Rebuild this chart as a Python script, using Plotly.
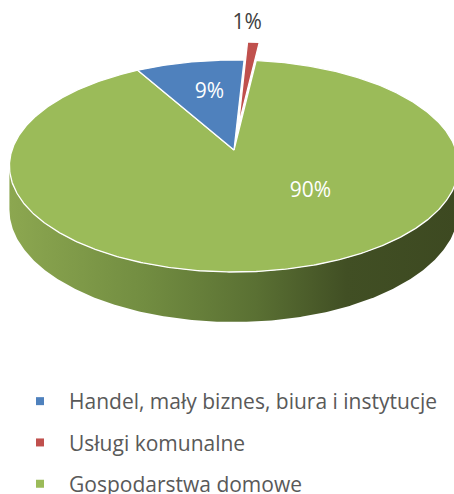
import numpy as np
import plotly.graph_objects as go

# ---- data ----
categories = ["Handel, mały biznes, biura i instytucje", "Usługi komunalne", "Gospodarstwa domowe"]
values = [9, 1, 90]
pct_labels = ["9%", "1%", "90%"]

# ---- style ----
colors = ["#4f81bd", "#c0504d", "#9bbb59"]
explode = [0.0, 0.24, 0.0]
label_colors = ["white", "#404040", "white"]
label_place = [(0.62, 2.0), (1.25, -2.0), (0.50, -29.0)]   # (radius fraction, angle shift deg)
side_scale = [
    [[0, "#3f6590"], [1, "#2a4466"]],
    [[0, "#9a3e3b"], [1, "#6e2c2a"]],
    [[0, "#8ca750"], [0.3, "#728d41"], [0.55, "#5a7033"], [0.75, "#414f24"], [1, "#3d4921"]],
]
START_DEG = -29.4
CX, CY, R, H, P, T = 234.0, 150.0, 222.0, 103.6, 0.151, 42.4
W, HT = 454, 494
FONT = "Open Sans"


def proj(X, Z, drop=0.0):
    s = 1.0 / (1.0 + P * Z)
    return CX + R * X * s, CY - H * Z * s + drop * s


def arc(a0, a1, ex=0.0, ez=0.0, drop=0.0):
    n = max(2, int(abs(a1 - a0) / 0.5) + 1)
    th = np.radians(np.linspace(a0, a1, n))
    return proj(ex + np.sin(th), ez + np.cos(th), drop)


total = float(sum(values))
bounds = []
acc = START_DEG
for v in values:
    a0 = acc
    acc += 360.0 * v / total
    bounds.append((a0, acc))

fig = go.Figure()

# sides (outer wall, visible near part)
vis0 = np.degrees(np.arccos(-P))
vis1 = 360.0 - vis0
for i, (a0, a1) in enumerate(bounds):
    for shift in (0.0, 360.0, -360.0):
        lo = max(a0 + shift, vis0)
        hi = min(a1 + shift, vis1)
        if lo < hi:
            tm = np.radians((a0 + a1) / 2)
            ex, ez = explode[i] * np.sin(tm), explode[i] * np.cos(tm)
            xt, yt = arc(lo, hi, ex, ez)
            xb, yb = arc(hi, lo, ex, ez, drop=T)
            xs = np.concatenate([xt, xb, xt[:1]])
            ys = np.concatenate([yt, yb, yt[:1]])
            fig.add_trace(go.Scatter(
                x=xs, y=ys, mode="lines", fill="toself",
                line=dict(width=0, color="rgba(0,0,0,0)"),
                fillgradient=dict(type="horizontal", colorscale=side_scale[i]),
                showlegend=False, hoverinfo="skip"))

# top faces
for i in [2, 0, 1]:
    a0, a1 = bounds[i]
    tm = np.radians((a0 + a1) / 2)
    ex, ez = explode[i] * np.sin(tm), explode[i] * np.cos(tm)
    ax, ay = proj(ex, ez)
    xa, ya = arc(a0, a1, ex, ez)
    xs = np.concatenate([[ax], xa, [ax]])
    ys = np.concatenate([[ay], ya, [ay]])
    fig.add_trace(go.Scatter(
        x=xs, y=ys, mode="lines", fill="toself", fillcolor=colors[i],
        line=dict(width=1.3, color="white"),
        showlegend=False, hoverinfo="skip"))

# data labels
for i, (a0, a1) in enumerate(bounds):
    r, dth = label_place[i]
    tm = np.radians((a0 + a1) / 2 + dth)
    e = explode[i]
    lx, ly = proj((r + e) * np.sin(tm), (r + e) * np.cos(tm))
    fig.add_trace(go.Scatter(
        x=[lx], y=[ly], mode="text", text=[pct_labels[i]],
        textfont=dict(family=FONT, size=21, color=label_colors[i]),
        showlegend=False, hoverinfo="skip", cliponaxis=False))

# legend entries
for i, cat in enumerate(categories):
    fig.add_trace(go.Scatter(
        x=[None], y=[None], mode="markers", name=cat, legendgroup=cat,
        marker=dict(symbol="square", size=8, color=colors[i])))

fig.update_layout(
    width=W, height=HT,
    margin=dict(l=0, r=0, t=0, b=0, autoexpand=False),
    paper_bgcolor="white", plot_bgcolor="white",
    xaxis=dict(range=[0, W], visible=False, fixedrange=True),
    yaxis=dict(range=[HT, 0], visible=False, fixedrange=True),
    showlegend=True,
    legend=dict(
        x=11 / W, y=1 - 381 / HT, xanchor="left", yanchor="top",
        orientation="v", itemwidth=48, tracegroupgap=11,
        font=dict(family=FONT, size=21, color="#595959"),
        bgcolor="rgba(0,0,0,0)"),
)

fig.write_html("out.html", config={"displayModeBar": False},
               post_script="document.body.style.margin='0';")
